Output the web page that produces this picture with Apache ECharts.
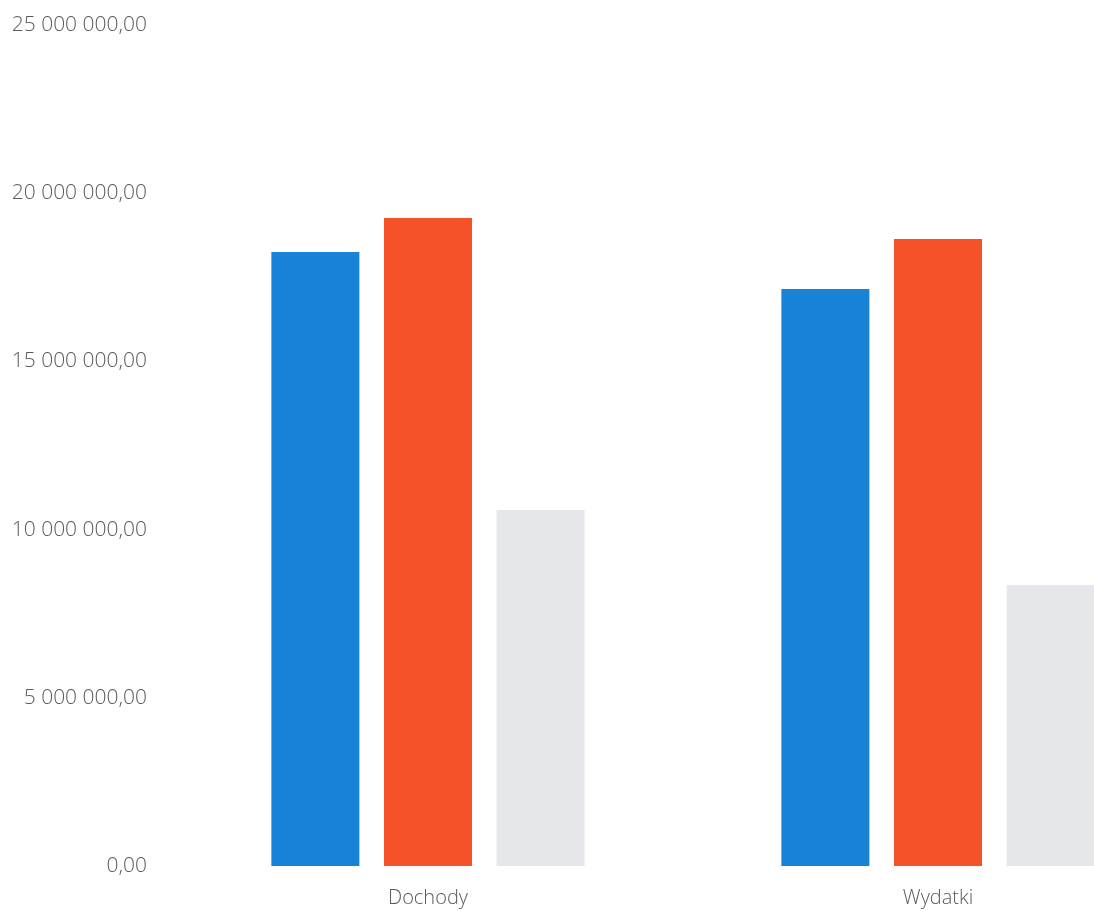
<!DOCTYPE html>
<html>
<head>
<meta charset="utf-8">
<script src="https://cdn.jsdelivr.net/npm/echarts@6/dist/echarts.min.js"></script>
<style>
html,body{margin:0;padding:0;background:#fff;overflow:hidden;width:1094px;height:911px;}
#chart{width:1193px;height:911px;}
</style>
</head>
<body>
<div id="chart"></div>
<script>
const categories = ["Dochody", "Wydatki"];
const seriesNames = ["Seria 1", "Seria 2", "Seria 3"];
const series1 = [18250000, 17150000];
const series2 = [19260000, 18640000];
const series3 = [10580000, 8350000];
const yTicks = [0, 5000000, 10000000, 15000000, 20000000, 25000000];
const colors = ["#1882d6", "#f5522a", "#e6e7ea"];

function fmt(v) {
  const parts = v.toFixed(2).split(".");
  const intPart = parts[0].replace(/\B(?=(\d{3})+(?!\d))/g, " ");
  return intPart + "," + parts[1];
}

const chart = echarts.init(document.getElementById("chart"));
const values = [series1, series2, series3];
chart.setOption({
  animation: false,
  backgroundColor: "#ffffff",
  grid: { left: 173, right: 0, top: 25, bottom: 45 },
  xAxis: {
    type: "category",
    data: categories,
    axisLine: { show: false },
    axisTick: { show: false },
    axisLabel: { color: "#5a5a5a", fontFamily: "Open Sans", fontSize: 20, fontWeight: 300, margin: 22 }
  },
  yAxis: {
    type: "value",
    min: yTicks[0],
    max: yTicks[yTicks.length - 1],
    interval: yTicks[1] - yTicks[0],
    splitLine: { show: false },
    axisLine: { show: false },
    axisTick: { show: false },
    axisLabel: { color: "#5a5a5a", fontFamily: "Open Sans", fontSize: 21, fontWeight: 300, margin: 26, formatter: fmt }
  },
  series: seriesNames.map((n, i) => ({
    name: n,
    type: "bar",
    data: values[i],
    itemStyle: { color: colors[i] },
    barWidth: 88,
    barGap: "28%"
  }))
});
</script>
</body>
</html>
